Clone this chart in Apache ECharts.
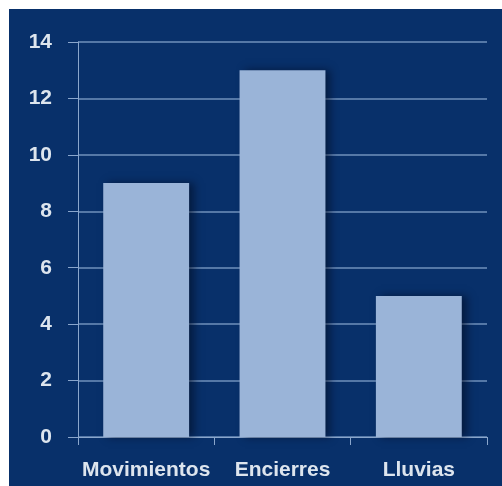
<!DOCTYPE html>
<html>
<head>
<meta charset="utf-8">
<script src="https://cdn.jsdelivr.net/npm/echarts@6/dist/echarts.min.js"></script>
<style>
html,body{margin:0;padding:0;background:#ffffff;}
#chart{position:absolute;left:9px;top:9px;width:493px;height:477px;background:#08306a;}
</style>
</head>
<body>
<div id="chart"></div>
<script>
const categories = ['Movimientos', 'Encierres', 'Lluvias'];
const values = [9, 13, 5];
const yTicks = [0, 2, 4, 6, 8, 10, 12, 14];

const chart = echarts.init(document.getElementById('chart'), null, {renderer: 'canvas'});
chart.setOption({
  animation: false,
  grid: {left: 69, right: 15, top: 33, bottom: 49, containLabel: false},
  xAxis: {
    type: 'category',
    data: categories,
    boundaryGap: true,
    axisLine: {show: true, lineStyle: {color: '#8aa6cc', width: 1}},
    axisTick: {show: true, length: 8, alignWithLabel: false, lineStyle: {color: '#8aa6cc'}},
    axisLabel: {color: '#dde5ee', fontFamily: 'Liberation Sans', fontWeight: 'bold', fontSize: 21, margin: 23, interval: 0}
  },
  yAxis: {
    type: 'value',
    min: yTicks[0],
    max: yTicks[yTicks.length - 1],
    interval: 2,
    axisLine: {show: true, lineStyle: {color: '#8aa6cc', width: 1}},
    axisTick: {show: true, length: 10, lineStyle: {color: '#8aa6cc'}},
    axisLabel: {color: '#dde5ee', fontFamily: 'Liberation Sans', fontWeight: 'bold', fontSize: 21, margin: 26},
    splitLine: {show: true, lineStyle: {color: '#6f90bd', width: 1.5}}
  },
  series: [{
    type: 'bar',
    data: values,
    barWidth: '63%',
    itemStyle: {
      color: '#9ab4d8',
      shadowColor: 'rgba(0,10,30,0.55)',
      shadowBlur: 8,
      shadowOffsetX: 5,
      shadowOffsetY: 0
    }
  }]
});
</script>
</body>
</html>
